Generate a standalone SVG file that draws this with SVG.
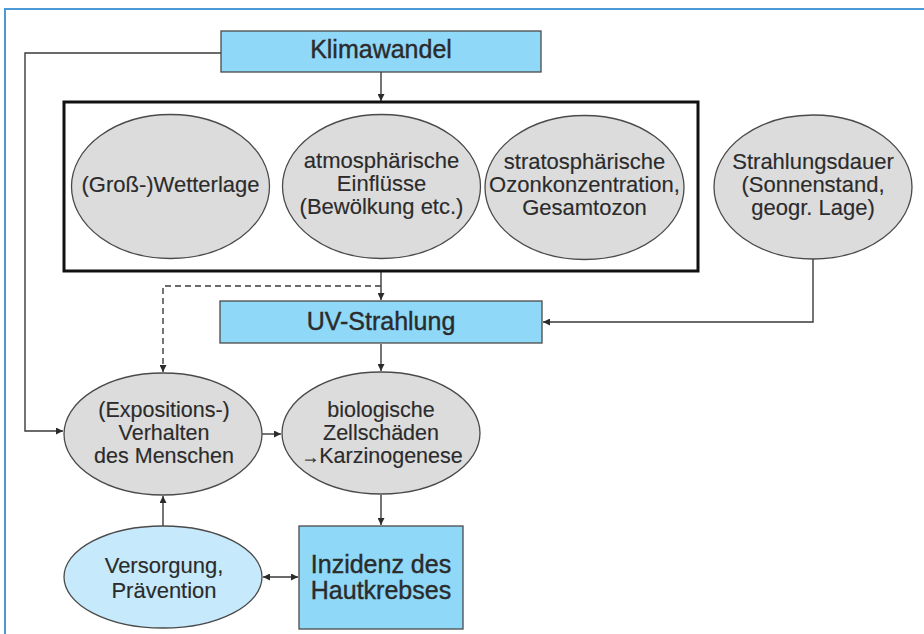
<svg xmlns="http://www.w3.org/2000/svg" width="924" height="634" viewBox="0 0 924 634">
<style>
.t{font-family:"Liberation Sans",Arial,sans-serif;fill:#2b2b2b;text-anchor:middle;stroke:#2b2b2b;stroke-width:0.15px}
.s22{font-size:22px}
.s21{font-size:21.5px}
.big{font-size:25px;stroke-width:0.4px}
.ell{fill:#dcdcdc;stroke:#4a4a4a;stroke-width:1.3}
.box{fill:#8fd8f8;stroke:#4a4a4a;stroke-width:1.3}
.ln{fill:none;stroke:#3a3a3a;stroke-width:1.4}
.ar{marker-end:url(#ah)}
</style>
<defs>
<marker id="ah" viewBox="0 0 10 10" refX="10" refY="5" markerWidth="7" markerHeight="7" markerUnits="userSpaceOnUse" orient="auto-start-reverse">
<path d="M0,0 L10,5 L0,10 z" fill="#2b2b2b"/>
</marker>
</defs>
<rect width="924" height="634" fill="#ffffff"/>
<g id="frame">
<path d="M5,634 V9 H924" fill="none" stroke="#4a9ad8" stroke-width="2"/>
</g>
<g id="connectors">
<path class="ln" d="M221,53 H25 V431 H63" marker-end="url(#ah)"/>
<path class="ln ar" d="M381,72 V101"/>
<path class="ln ar" d="M381,272 V300"/>
<path class="ln ar" d="M381,286 H163 V372" stroke-dasharray="6,4"/>
<path class="ln ar" d="M813,259 V322 H543"/>
<path class="ln ar" d="M381,344 V371"/>
<path class="ln ar" d="M262,434 H281"/>
<path class="ln ar" d="M163,526 V496"/>
<path class="ln ar" d="M381,495 V525"/>
<path class="ln" d="M263,577 H298" marker-start="url(#ah)" marker-end="url(#ah)"/>
</g>
<g id="klimawandel">
<rect class="box" x="221" y="31" width="320" height="41"/>
<text class="t big" x="381" y="58">Klimawandel</text>
</g>
<g id="einflussbox">
<rect x="64" y="102" width="634" height="169" fill="none" stroke="#111" stroke-width="3"/>
</g>
<g id="wetterlage">
<ellipse class="ell" cx="170.5" cy="186.5" rx="99" ry="72"/>
<text class="t s22" x="170.5" y="192">(Groß-)Wetterlage</text>
</g>
<g id="atmosphaere">
<ellipse class="ell" cx="381.5" cy="186.5" rx="99" ry="72"/>
<text class="t s22" x="381.5" y="168">atmosphärische</text>
<text class="t s22" x="381.5" y="191">Einflüsse</text>
<text class="t s22" x="381.5" y="214">(Bewölkung etc.)</text>
</g>
<g id="ozon">
<ellipse class="ell" cx="584.5" cy="187.5" rx="99.5" ry="72"/>
<text class="t s22" x="584.5" y="169">stratosphärische</text>
<text class="t s22" x="584.5" y="192">Ozonkonzentration,</text>
<text class="t s22" x="584.5" y="215">Gesamtozon</text>
</g>
<g id="strahlungsdauer">
<ellipse class="ell" cx="813" cy="187" rx="99" ry="72"/>
<text class="t s22" x="813" y="169">Strahlungsdauer</text>
<text class="t s22" x="813" y="192">(Sonnenstand,</text>
<text class="t s22" x="813" y="215">geogr. Lage)</text>
</g>
<g id="uv">
<rect class="box" x="220" y="301" width="322" height="42"/>
<text class="t big" x="381" y="330">UV-Strahlung</text>
</g>
<g id="verhalten">
<ellipse class="ell" cx="163" cy="434" rx="99" ry="61"/>
<text class="t s21" x="164" y="417">(Expositions-)</text>
<text class="t s21" x="164" y="440">Verhalten</text>
<text class="t s21" x="164" y="463">des Menschen</text>
</g>
<g id="zellschaeden">
<ellipse class="ell" cx="381" cy="433" rx="99" ry="61"/>
<text class="t s21" x="381" y="417">biologische</text>
<text class="t s21" x="381" y="440">Zellschäden</text>
<text class="t s21" x="382" y="463"><tspan font-size="18">→</tspan>Karzinogenese</text>
</g>
<g id="versorgung">
<ellipse cx="163" cy="577" rx="99" ry="51" fill="#c6eafb" stroke="#4a4a4a" stroke-width="1.3"/>
<text class="t s22" x="164" y="573">Versorgung,</text>
<text class="t s22" x="164" y="598">Prävention</text>
</g>
<g id="inzidenz">
<rect class="box" x="299" y="526" width="164" height="103"/>
<text class="t big" x="381" y="573">Inzidenz des</text>
<text class="t big" x="381" y="599">Hautkrebses</text>
</g>
</svg>
